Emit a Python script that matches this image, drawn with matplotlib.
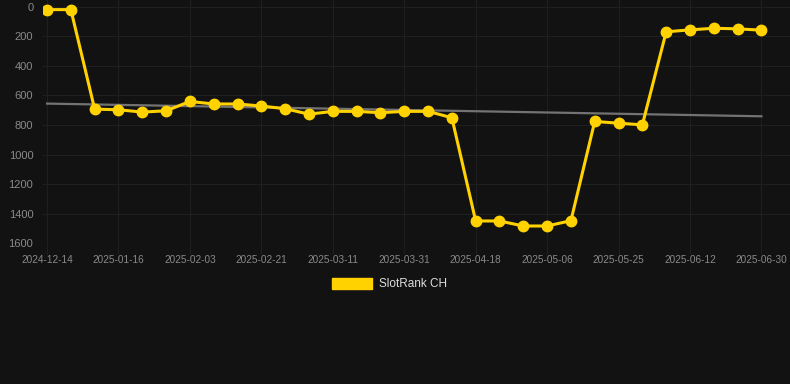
import numpy as np
import matplotlib.pyplot as plt
from matplotlib.patches import Patch

# weekly-ish snapshots, only every third date is labelled on the axis
dates = ["2024-12-14", "2024-12-25", "2025-01-05", "2025-01-16", "2025-01-22",
         "2025-01-28", "2025-02-03", "2025-02-09", "2025-02-15", "2025-02-21",
         "2025-02-27", "2025-03-05", "2025-03-11", "2025-03-18", "2025-03-24",
         "2025-03-31", "2025-04-06", "2025-04-12", "2025-04-18", "2025-04-24",
         "2025-04-30", "2025-05-06", "2025-05-12", "2025-05-19", "2025-05-25",
         "2025-05-31", "2025-06-06", "2025-06-12", "2025-06-18", "2025-06-24",
         "2025-06-30"]
rank = [20, 20, 693, 697, 713, 704, 641, 658, 658, 672,
        690, 727, 708, 708, 717, 708, 708, 751, 1449, 1449,
        1483, 1483, 1447, 776, 788, 799, 170, 157, 146, 150,
        159]
series_name = "SlotRank CH"

bg = "#121212"
grid_c = "#1f1f1f"
tick_c = "#8a8a8a"
gold = "#FFD200"

plt.rcParams["font.family"] = ["Liberation Sans", "DejaVu Sans"]

fig = plt.figure(figsize=(7.9, 3.84), dpi=100, facecolor=bg)
ax = fig.add_axes([43 / 790, 1 - 243.3 / 384, (790 - 43) / 790, 243.3 / 384])
ax.set_facecolor(bg)

x = np.arange(len(rank))
y = np.array(rank, dtype=float)

# linear trend
k, b = np.polyfit(x, y, 1)
ax.plot([x[0], x[-1]], [k * x[0] + b, k * x[-1] + b], color="#737373", lw=1.6, zorder=2)

ax.plot(x, y, color=gold, lw=2.2, marker="o", ms=7.5, zorder=3)

ax.set_xlim(-0.17, 31.2)
ax.set_ylim(1600, -45)
ax.set_yticks(range(0, 1601, 200))
ax.set_xticks(x[::3])
ax.set_xticklabels(dates[::3])

ax.grid(True, color=grid_c, lw=0.8)
ax.set_axisbelow(True)
for s in ax.spines.values():
    s.set_visible(False)
ax.tick_params(axis="x", colors=grid_c, length=8, width=0.8, labelcolor=tick_c,
               labelsize=7.2, pad=0.5)
ax.tick_params(axis="y", length=0, labelcolor=tick_c, labelsize=8, pad=7)

fig.legend(handles=[Patch(facecolor=gold, edgecolor=gold)], labels=[series_name],
           loc="center", bbox_to_anchor=(389.5 / 790, 1 - 284 / 384), frameon=False,
           handlelength=3.4, handleheight=1.1, handletextpad=0.55,
           fontsize=8.5, labelcolor="#dddddd")

fig.savefig("out.png", dpi=100, facecolor=bg)
